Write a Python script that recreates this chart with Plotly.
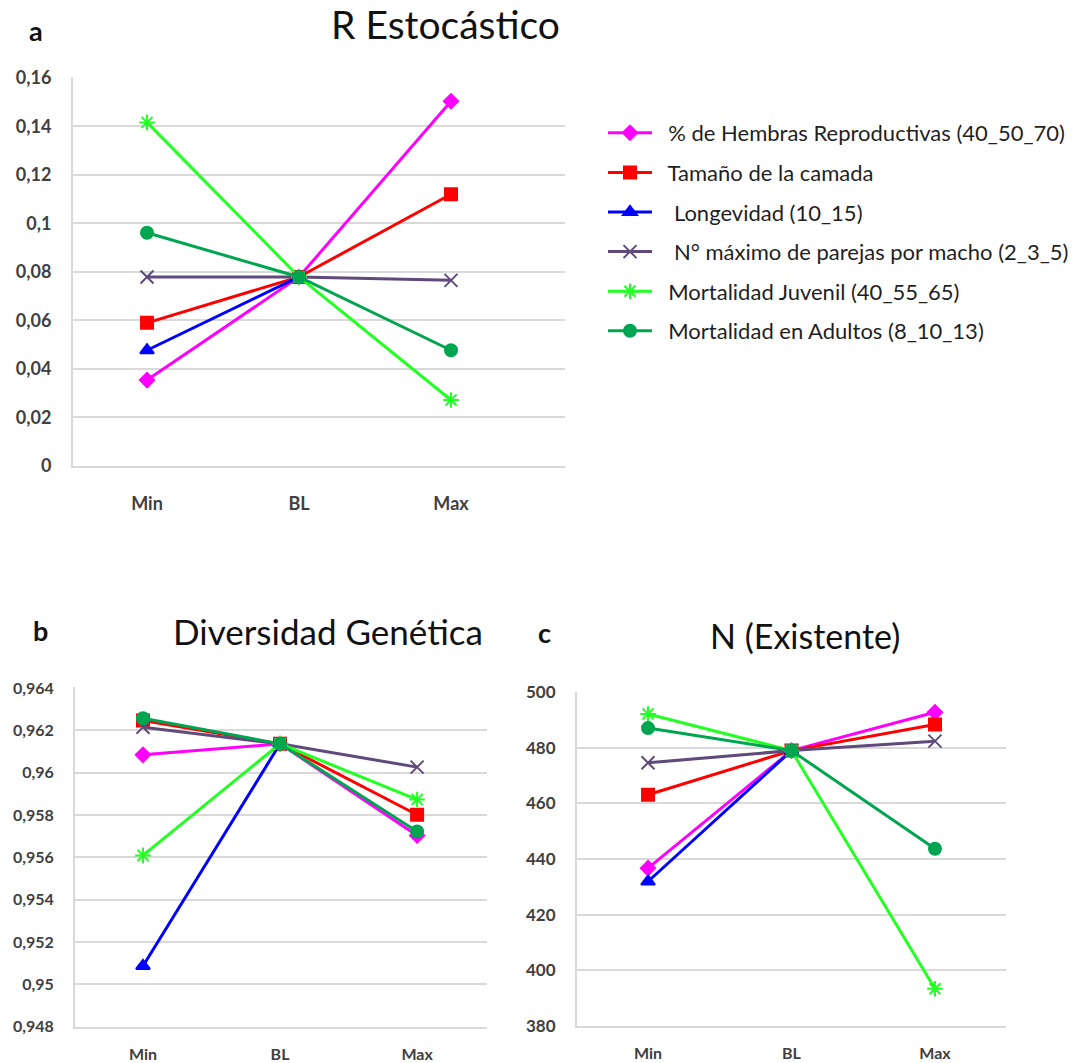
import plotly.graph_objects as go

W, H = 1083, 1063

categories = ["Min", "BL", "Max"]
series_names = [
    "% de Hembras Reproductivas (40_50_70)",
    "Tamaño de la camada",
    " Longevidad (10_15)",
    " N° máximo de parejas por macho (2_3_5)",
    "Mortalidad Juvenil (40_55_65)",
    "Mortalidad en Adultos (8_10_13)",
]

# Panel a: R Estocástico
r_hembras = [0.0354, 0.0779, 0.1503]
r_camada = [0.0590, 0.0779, 0.1120]
r_longevidad = [0.0477, 0.0779, None]
r_parejas = [0.0779, 0.0779, 0.0765]
r_juvenil = [0.1416, 0.0779, 0.0272]
r_adultos = [0.0961, 0.0779, 0.0477]

# Panel b: Diversidad Genética
dg_hembras = [0.96084, 0.96136, 0.95703]
dg_camada = [0.96246, 0.96136, 0.95801]
dg_longevidad = [0.95087, 0.96136, None]
dg_parejas = [0.96214, 0.96136, 0.96026]
dg_juvenil = [0.95609, 0.96136, 0.95873]
dg_adultos = [0.96257, 0.96136, 0.95722]

# Panel c: N (Existente)
n_hembras = [436.7, 479.0, 492.8]
n_camada = [463.1, 479.0, 488.4]
n_longevidad = [431.9, 479.0, None]
n_parejas = [474.6, 479.0, 482.4]
n_juvenil = [492.2, 479.0, 393.3]
n_adultos = [487.1, 479.0, 443.7]

# tick labels
a_tickvals = [0, 0.02, 0.04, 0.06, 0.08, 0.10, 0.12, 0.14, 0.16]
a_ticktext = ["0", "0,02", "0,04", "0,06", "0,08", "0,1", "0,12", "0,14", "0,16"]
b_tickvals = [0.948, 0.950, 0.952, 0.954, 0.956, 0.958, 0.960, 0.962, 0.964]
b_ticktext = ["0,948", "0,95", "0,952", "0,954", "0,956", "0,958", "0,96", "0,962", "0,964"]
c_tickvals = [380, 400, 420, 440, 460, 480, 500]
c_ticktext = ["380", "400", "420", "440", "460", "480", "500"]

colors = ["#FF00FF", "#FF0000", "#0000FF", "#604A7B", "#22FF22", "#00A550"]
symbols = ["diamond", "square", "triangle-up", "x-thin-open", "asterisk-open", "circle"]
sizes = [11, 12, 12, 13, 13, 12]

panels = [
    ("x", "y", [r_hembras, r_camada, r_longevidad, r_parejas, r_juvenil, r_adultos], True),
    ("x2", "y2", [dg_hembras, dg_camada, dg_longevidad, dg_parejas, dg_juvenil, dg_adultos], False),
    ("x3", "y3", [n_hembras, n_camada, n_longevidad, n_parejas, n_juvenil, n_adultos], False),
]

fig = go.Figure()
for xa, ya, series, show in panels:
    for i, vals in enumerate(series):
        fig.add_trace(go.Scatter(
            x=categories, y=vals, xaxis=xa, yaxis=ya,
            mode="lines+markers", name="\u00a0\u00a0" + series_names[i],
            legendgroup=f"g{i}", showlegend=show,
            line=dict(color=colors[i], width=3),
            marker=dict(symbol=symbols[i], size=sizes[i], color=colors[i],
                        line=dict(color=colors[i], width=2)),
        ))

def px_x(p):
    return p / W

def px_y(p):
    return 1 - p / H

grid = "#D9D9D9"
tickfont_color = "#404040"

def yax(domain_top, domain_bot, vals, text, rng, size, anchor):
    return dict(
        domain=[px_y(domain_bot), px_y(domain_top)], anchor=anchor,
        range=rng, tickvals=vals, ticktext=text,
        showgrid=True, gridcolor=grid, gridwidth=2, zeroline=False,
        showline=True, linecolor=grid, linewidth=2,
        ticks="", ticklabelstandoff=16, automargin=False,
        tickfont=dict(family="Lato", size=size, color=tickfont_color, weight="bold"),
        fixedrange=True,
    )

def xax(left, right, rng, size, anchor, standoff):
    return dict(
        domain=[px_x(left), px_x(right)], anchor=anchor,
        type="category", range=rng, showgrid=False, zeroline=False,
        showline=True, linecolor=grid, linewidth=2,
        ticks="", ticklabelstandoff=standoff, automargin=False,
        tickfont=dict(family="Lato", size=size, color=tickfont_color, weight="bold"),
        fixedrange=True,
    )

fig.update_layout(
    width=W, height=H,
    margin=dict(l=0, r=0, t=0, b=0),
    paper_bgcolor="white", plot_bgcolor="white",
    font=dict(family="Lato", color="#262626"),
    xaxis=xax(73, 565, [-0.487, 2.75], 18, "y", 20),
    yaxis=yax(77, 466, a_tickvals, a_ticktext, [0, 0.1603], 18, "x"),
    xaxis2=xax(75, 487, [-0.496, 2.51], 16, "y2", 12),
    yaxis2=yax(687.3, 1026.7, b_tickvals, b_ticktext, [0.948, 0.96403], 16, "x2"),
    xaxis3=xax(577, 1006, [-0.495, 2.495], 16, "y3", 12),
    yaxis3=yax(691.7, 1025.7, c_tickvals, c_ticktext, [380, 500.2], 17, "x3"),
    legend=dict(
        x=px_x(603), y=px_y(112), xanchor="left", yanchor="top",
        font=dict(family="Lato", size=22, color="#1F1F1F"),
        tracegroupgap=8, itemwidth=44, bgcolor="rgba(0,0,0,0)",
    ),
    showlegend=True,
)

titles = [
    ("R Estocástico", 445, 24, 39),
    ("Diversidad Genética", 328, 631, 35),
    ("N (Existente)", 805, 635, 34),
]
for t, x, y, s in titles:
    fig.add_annotation(text=t, x=px_x(x), y=px_y(y), xref="paper", yref="paper",
                       showarrow=False, xanchor="center", yanchor="middle",
                       font=dict(family="Lato", size=s, color="#111111"))

letters = [("a", 36, 31), ("b", 40, 630), ("c", 544, 632)]
for t, x, y in letters:
    fig.add_annotation(text=t, x=px_x(x), y=px_y(y), xref="paper", yref="paper",
                       showarrow=False, xanchor="center", yanchor="middle",
                       font=dict(family="Lato", size=27, color="#111111", weight="bold"))

fig.write_html("out.html")
